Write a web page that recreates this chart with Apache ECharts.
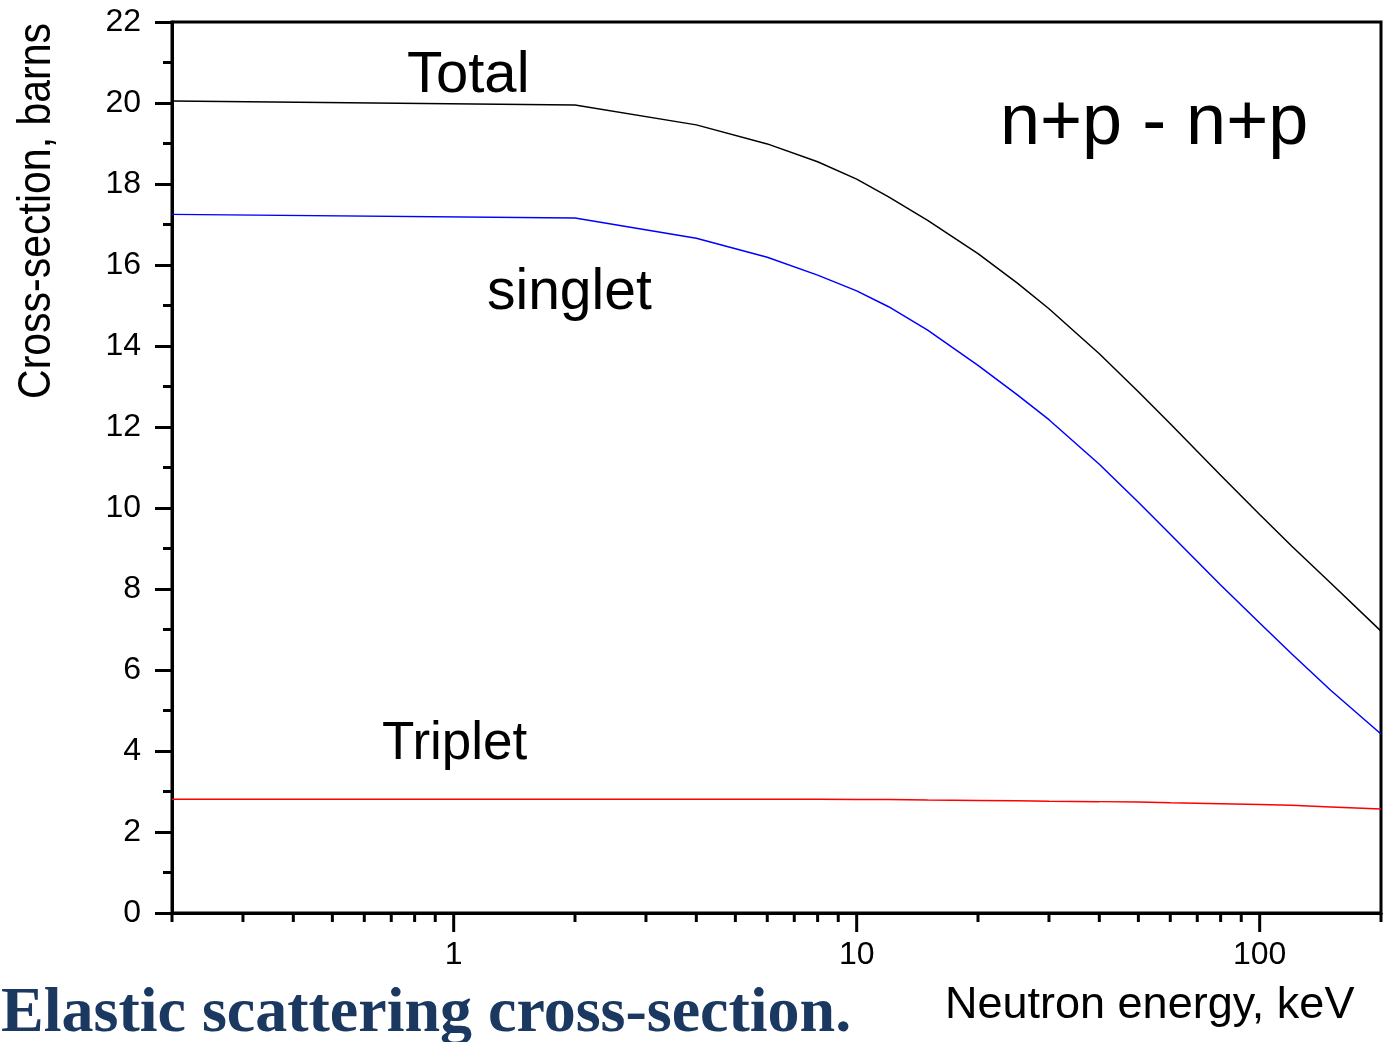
<!DOCTYPE html>
<html>
<head>
<meta charset="utf-8">
<title>Elastic scattering cross-section</title>
<script src="https://cdn.jsdelivr.net/npm/echarts@6.0.0/dist/echarts.min.js"></script>
<style>
  html, body { margin: 0; padding: 0; background: #fff; }
  #chart { width: 1386px; height: 1042px; }
</style>
</head>
<body>
<div id="chart"></div>
<script>
// neutron energy, keV
var energy = [0.2, 2, 4, 6, 8, 10, 12, 15, 20, 25, 30, 40, 50, 60, 80, 100, 120, 150, 200];
// cross-sections, barns
var total = [20.05, 19.95, 19.46, 18.99, 18.55, 18.12, 17.68, 17.10, 16.28, 15.56, 14.92, 13.81, 12.87, 12.08, 10.81, 9.84, 9.06, 8.15, 6.96];
var singlet = [17.25, 17.16, 16.66, 16.19, 15.75, 15.36, 14.97, 14.39, 13.52, 12.80, 12.18, 11.08, 10.14, 9.35, 8.10, 7.16, 6.40, 5.50, 4.42];
var triplet = [2.81, 2.81, 2.81, 2.81, 2.81, 2.80, 2.80, 2.79, 2.78, 2.77, 2.76, 2.75, 2.74, 2.72, 2.70, 2.68, 2.66, 2.62, 2.57];

// x axis ticks (log scale)
var majorTicks = [1, 10, 100];
var minorTicks = [0.2, 0.3, 0.4, 0.5, 0.6, 0.7, 0.8, 0.9, 2, 3, 4, 5, 6, 7, 8, 9, 20, 30, 40, 50, 60, 70, 80, 90, 200];

var FONT = 'Liberation Sans, Arial, sans-serif';

var chart = echarts.init(document.getElementById('chart'));

function pairs(ys) {
    return energy.map(function (e, i) { return [e, ys[i]]; });
}

function lineSeries(name, ys, color) {
    return {
        name: name,
        type: 'line',
        data: pairs(ys),
        showSymbol: false,
        symbol: 'none',
        lineStyle: { color: color, width: 1.5 },
        z: 3
    };
}

var tickData = minorTicks.concat(majorTicks).map(function (v) { return [v, 0]; });

chart.setOption({
    animation: false,
    backgroundColor: '#fff',
    title: {
        text: 'Elastic scattering cross-section.',
        left: 1,
        top: 982,
        padding: 0,
        textStyle: {
            fontFamily: 'Liberation Serif, Times New Roman, serif',
            fontWeight: 'bold',
            fontSize: 64,
            color: '#1b3860'
        }
    },
    grid: {
        left: 172,
        right: 5,
        top: 22,
        bottom: 129,
        show: true,
        borderColor: '#000',
        borderWidth: 3,
        backgroundColor: 'transparent'
    },
    xAxis: {
        type: 'log',
        logBase: 10,
        min: 0.2,
        max: 200,
        axisLine: { show: true, lineStyle: { color: '#000', width: 3 } },
        axisTick: { show: false },
        axisLabel: { show: false },
        splitLine: { show: false },
        minorTick: { show: false }
    },
    yAxis: {
        type: 'value',
        min: 0,
        max: 22,
        interval: 2,
        axisLine: { show: true, lineStyle: { color: '#000', width: 3 } },
        axisTick: { show: true, length: 17, lineStyle: { color: '#000', width: 3 } },
        minorTick: { show: true, splitNumber: 2, length: 9, lineStyle: { color: '#000', width: 3 } },
        axisLabel: { fontSize: 32, color: '#000', margin: 31, fontFamily: FONT },
        splitLine: { show: false },
        minorSplitLine: { show: false }
    },
    series: [
        lineSeries('Total', total, '#000000'),
        lineSeries('singlet', singlet, '#0000ff'),
        lineSeries('Triplet', triplet, '#ff0000'),
        {
            // ticks and labels of the log energy axis
            type: 'custom',
            silent: true,
            clip: false,
            data: tickData,
            encode: { x: 0, y: 1 },
            renderItem: function (params, api) {
                var v = api.value(0);
                var p = api.coord([v, 0]);
                var major = majorTicks.indexOf(v) >= 0;
                var len = major ? 19 : 9;
                var children = [{
                    type: 'line',
                    shape: { x1: p[0], y1: p[1], x2: p[0], y2: p[1] + len },
                    style: { stroke: '#000', lineWidth: 3 }
                }];
                if (major) {
                    children.push({
                        type: 'text',
                        x: p[0],
                        y: p[1] + 42,
                        style: {
                            text: String(v),
                            fontSize: 32,
                            fontFamily: FONT,
                            fill: '#000',
                            align: 'center',
                            verticalAlign: 'middle'
                        }
                    });
                }
                return { type: 'group', children: children };
            }
        }
    ],
    graphic: [
        {
            type: 'text', x: 37, y: 211, rotation: Math.PI / 2, scaleY: 1.12,
            style: { text: 'Cross-section, barns', fontSize: 41, fontFamily: FONT, fill: '#000', align: 'center', verticalAlign: 'middle' }
        },
        {
            type: 'text', x: 945, y: 1006,
            style: { text: 'Neutron energy, keV', fontSize: 45, fontFamily: FONT, fill: '#000', align: 'left', verticalAlign: 'middle' }
        },
        {
            type: 'text', x: 407, y: 76,
            style: { text: 'Total', fontSize: 58, fontFamily: FONT, fill: '#000', align: 'left', verticalAlign: 'middle' }
        },
        {
            type: 'text', x: 487, y: 293,
            style: { text: 'singlet', fontSize: 57, fontFamily: FONT, fill: '#000', align: 'left', verticalAlign: 'middle' }
        },
        {
            type: 'text', x: 382, y: 744,
            style: { text: 'Triplet', fontSize: 53, fontFamily: FONT, fill: '#000', align: 'left', verticalAlign: 'middle' }
        },
        {
            type: 'text', x: 1000, y: 124,
            style: { text: 'n+p - n+p', fontSize: 72, fontFamily: FONT, fill: '#000', align: 'left', verticalAlign: 'middle' }
        }
    ]
});
</script>
</body>
</html>
